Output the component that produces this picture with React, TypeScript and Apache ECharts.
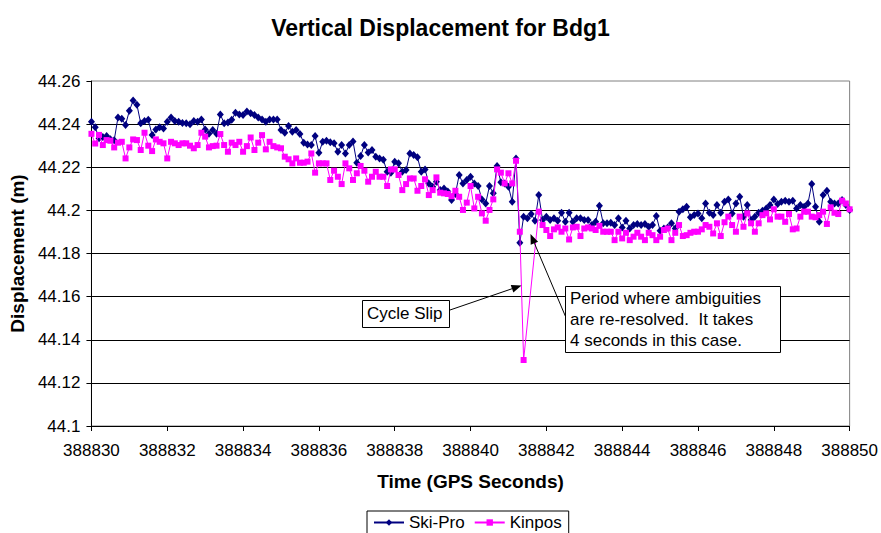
import React, { useEffect, useRef } from "react";
import * as echarts from "echarts";

const FONT = '"Liberation Sans", Arial, sans-serif';

const chartTitle = "Vertical Displacement for Bdg1";
const xAxisTitle = "Time (GPS Seconds)";
const yAxisTitle = "Displacement (m)";
const seriesNames = ["Ski-Pro", "Kinpos"];

// Sampling of both receivers: 10 Hz starting at GPS second 388830
const startTime = 388830;
const sampleStep = 0.1;

const xMin = 388830;
const xMax = 388850;
const xInterval = 2;
const yMin = 44.1;
const yMax = 44.26;
const yInterval = 0.02;

// Ski-Pro vertical displacement (m), one row per GPS second
const skiPro = [
  44.2411, 44.2385, 44.2335, 44.234, 44.2345, 44.233, 44.2325, 44.2431, 44.2425, 44.2396,
  44.2462, 44.2509, 44.249, 44.2404, 44.2415, 44.242, 44.235, 44.2375, 44.2385, 44.238,
  44.2411, 44.2431, 44.2415, 44.2411, 44.2405, 44.2404, 44.24, 44.2415, 44.2411, 44.2422,
  44.2375, 44.2355, 44.2373, 44.2355, 44.2445, 44.2404, 44.2407, 44.242, 44.2453, 44.2445,
  44.2442, 44.2458, 44.245, 44.2442, 44.2431, 44.2422, 44.2411, 44.2422, 44.2422, 44.2422,
  44.2373, 44.236, 44.2391, 44.2365, 44.2373, 44.2354, 44.2314, 44.2306, 44.2303, 44.2345,
  44.2267, 44.2318, 44.2323, 44.2316, 44.2311, 44.2272, 44.2303, 44.2264, 44.2303, 44.2319,
  44.2221, 44.2252, 44.2303, 44.2268, 44.228, 44.2249, 44.2241, 44.2235, 44.2179, 44.2175,
  44.2226, 44.2218, 44.2179, 44.2187, 44.2264, 44.2257, 44.2246, 44.2179, 44.219, 44.2125,
  44.211, 44.2133, 44.2094, 44.2102, 44.2087, 44.2048, 44.2076, 44.2164, 44.2125, 44.2141,
  44.2156, 44.2125, 44.2113, 44.2051, 44.2032, 44.2113, 44.2079, 44.2206, 44.2131, 44.2125,
  44.211, 44.204, 44.2241, 44.185, 44.1971, 44.1963, 44.1983, 44.1952, 44.2071, 44.1955,
  44.1971, 44.1955, 44.1963, 44.1952, 44.1989, 44.1947, 44.1989, 44.1947, 44.1963, 44.1963,
  44.1955, 44.1955, 44.1932, 44.1947, 44.2022, 44.194, 44.194, 44.1943, 44.1932, 44.1963,
  44.1921, 44.1952, 44.1916, 44.1932, 44.1937, 44.1932, 44.1937, 44.1924, 44.1932, 44.1974,
  44.1906, 44.1916, 44.1921, 44.194, 44.1916, 44.1994, 44.2005, 44.2017, 44.1968, 44.1978,
  44.1986, 44.1963, 44.2032, 44.1989, 44.1978, 44.2025, 44.1989, 44.204, 44.2051, 44.1986,
  44.2032, 44.2063, 44.1971, 44.2025, 44.1955, 44.1971, 44.1989, 44.1998, 44.2009, 44.2025,
  44.2051, 44.2029, 44.204, 44.2045, 44.204, 44.2045, 44.2009, 44.2025, 44.2017, 44.2032,
  44.2122, 44.2017, 44.1947, 44.2071, 44.2091, 44.204, 44.2032, 44.2032, 44.2048, 44.2025,
  44.2002,
];

// Kinpos vertical displacement (m); null = no fix while ambiguities were re-resolved
const kinpos = [
  44.2355, 44.231, 44.235, 44.2303, 44.2326, 44.2323, 44.2292, 44.2314, 44.2318, 44.2241,
  44.2292, 44.2329, 44.2326, 44.228, 44.236, 44.23, 44.2275, 44.2329, 44.2318, 44.2311,
  44.2241, 44.2318, 44.2311, 44.2303, 44.2311, 44.2311, 44.23, 44.2288, 44.2303, 44.236,
  44.2342, 44.2292, 44.2298, 44.23, 44.2354, 44.2303, 44.2272, 44.2314, 44.2303, 44.2318,
  44.2272, 44.2298, 44.2338, 44.228, 44.2314, 44.2349, 44.2283, 44.2318, 44.2298, 44.2292,
  44.2288, 44.2249, 44.2237, 44.2218, 44.2241, 44.2221, 44.2221, 44.2226, 44.2264, 44.2175,
  44.2218, 44.2218, 44.2218, 44.2141, 44.2184, 44.2156, 44.2122, 44.2218, 44.2195, 44.2141,
  44.2172, 44.2206, 44.2184, 44.2133, 44.2156, 44.2179, 44.2156, 44.2156, 44.2113, 44.219,
  44.219, 44.2164, 44.2094, 44.2122, 44.2148, 44.2148, 44.2091, 44.2113, 44.2144, 44.2071,
  44.2094, 44.2153, 44.2082, 44.2079, 44.2076, 44.2066, 44.2091, 44.2063, 44.2002, 44.2036,
  44.2113, 44.2009, 44.2063, 44.1986, 44.1952, 44.2002, 44.2051, 44.219, 44.2175, 44.2125,
  44.2172, 44.2125, 44.223, 44.1901, 44.1306, null, null, null, 44.1994, 44.1932,
  44.1909, 44.1881, 44.1912, 44.1921, 44.1901, 44.1916, 44.1865, 44.1921, 44.1924, 44.1881,
  44.1916, 44.1921, 44.1916, 44.1909, 44.1928, 44.1901, 44.1901, 44.1901, 44.1862, 44.1901,
  44.187, 44.1896, 44.1862, 44.1878, 44.1896, 44.1878, 44.1862, 44.1896, 44.1885, 44.1862,
  44.1878, 44.1909, 44.1916, 44.1862, 44.1896, 44.1932, 44.1881, 44.1885, 44.1896, 44.1901,
  44.1901, 44.1912, 44.1932, 44.1924, 44.1893, 44.194, 44.1881, 44.1945, 44.1971, 44.1932,
  44.1901, 44.1971, 44.1924, 44.1986, 44.194, 44.1901, 44.194, 44.1978, 44.1986, 44.1958,
  44.2005, 44.1971, 44.1971, 44.1947, 44.1983, 44.1912, 44.1916, 44.1971, 44.1994, 44.1994,
  44.1971, 44.1968, 44.1978, 44.1994, 44.1937, 44.2014, 44.1989, 44.1983, 44.2045, 44.2032,
  44.2005,
];

const cycleSlipLabel = "Cycle Slip";
const periodLabel = [
  "Period where ambiguities",
  "are re-resolved.  It takes",
  "4 seconds in this case.",
];

function toPairs(values: (number | null)[]) {
  const out: [number, number][] = [];
  values.forEach((v, i) => {
    if (v !== null) out.push([Number((startTime + i * sampleStep).toFixed(1)), v]);
  });
  return out;
}

function arrow(x1: number, y1: number, x2: number, y2: number) {
  const dx = x2 - x1;
  const dy = y2 - y1;
  const len = Math.hypot(dx, dy);
  const ux = dx / len;
  const uy = dy / len;
  const hl = 10;
  const hw = 4;
  const bx = x2 - ux * hl;
  const by = y2 - uy * hl;
  return [
    {
      type: "line",
      z: 100,
      shape: { x1, y1, x2: bx, y2: by },
      style: { stroke: "#000", lineWidth: 1 },
    },
    {
      type: "polygon",
      z: 100,
      shape: {
        points: [
          [x2, y2],
          [bx - uy * hw, by + ux * hw],
          [bx + uy * hw, by - ux * hw],
        ],
      },
      style: { fill: "#000" },
    },
  ];
}

export default function App() {
  const ref = useRef<HTMLDivElement>(null);

  useEffect(() => {
    if (!ref.current) return;
    const chart = echarts.init(ref.current, undefined, { renderer: "svg" });

    const textStyle = { fontFamily: FONT, color: "#000" };

    chart.setOption({
      animation: false,
      backgroundColor: "#fff",
      title: {
        text: chartTitle,
        left: "center",
        top: 11,
        textStyle: { ...textStyle, fontSize: 23, fontWeight: "bold" },
      },
      grid: {
        left: 87,
        right: 30,
        top: 81,
        bottom: 107,
        show: true,
        borderColor: "#808080",
        borderWidth: 1,
      },
      legend: {
        left: 367,
        top: 511,
        orient: "horizontal",
        data: seriesNames,
        borderColor: "#000",
        borderWidth: 1,
        borderRadius: 0,
        padding: [3, 7, 8, 6],
        itemGap: 9,
        itemWidth: 30,
        itemHeight: 8,
        textStyle: { ...textStyle, fontSize: 17 },
      },
      xAxis: {
        type: "value",
        min: xMin,
        max: xMax,
        interval: xInterval,
        name: xAxisTitle,
        nameLocation: "middle",
        nameGap: 46,
        nameTextStyle: { ...textStyle, fontSize: 19, fontWeight: "bold" },
        axisLine: { show: true, lineStyle: { color: "#000", width: 1 } },
        axisTick: { show: true, length: 5, lineStyle: { color: "#000" } },
        axisLabel: {
          ...textStyle,
          fontSize: 17,
          margin: 16,
          formatter: (v: number) => String(v),
        },
        splitLine: { show: false },
      },
      yAxis: {
        type: "value",
        min: yMin,
        max: yMax,
        interval: yInterval,
        name: yAxisTitle,
        nameLocation: "middle",
        nameGap: 58,
        nameRotate: 90,
        nameTextStyle: { ...textStyle, fontSize: 19, fontWeight: "bold" },
        axisLine: { show: true, lineStyle: { color: "#000", width: 1 } },
        axisTick: { show: true, length: 5, lineStyle: { color: "#000" } },
        axisLabel: {
          ...textStyle,
          fontSize: 17,
          margin: 11,
          formatter: (v: number) => String(Number(v.toFixed(2))),
        },
        splitLine: {
          show: true,
          showMinLine: false,
          showMaxLine: false,
          lineStyle: { color: "#000", width: 1 },
        },
      },
      series: [
        {
          name: seriesNames[0],
          type: "line",
          data: toPairs(skiPro),
          symbol: "diamond",
          symbolSize: [7, 8],
          showAllSymbol: true,
          itemStyle: { color: "#000080" },
          lineStyle: { color: "#000080", width: 1 },
          z: 2,
        },
        {
          name: seriesNames[1],
          type: "line",
          data: toPairs(kinpos),
          symbol: "rect",
          symbolSize: 6,
          showAllSymbol: true,
          connectNulls: true,
          itemStyle: { color: "#FF00FF" },
          lineStyle: { color: "#FF00FF", width: 1 },
          z: 3,
        },
      ],
      graphic: {
        elements: [
          ...arrow(450, 310, 521.5, 285.5),
          ...arrow(567, 320, 530.5, 234),
          {
            type: "rect",
            z: 101,
            shape: { x: 362.5, y: 300.5, width: 87, height: 27 },
            style: { fill: "#fff", stroke: "#000", lineWidth: 1 },
          },
          {
            type: "text",
            z: 102,
            x: 367,
            y: 305,
            style: {
              text: cycleSlipLabel,
              fontFamily: FONT,
              fontSize: 17,
              fill: "#000",
              verticalAlign: "top",
            },
          },
          {
            type: "rect",
            z: 101,
            shape: { x: 565.5, y: 286.5, width: 215, height: 66 },
            style: { fill: "#fff", stroke: "#000", lineWidth: 1 },
          },
          {
            type: "text",
            z: 102,
            x: 570,
            y: 288,
            style: {
              text: periodLabel.join("\n"),
              fontFamily: FONT,
              fontSize: 17,
              lineHeight: 21,
              fill: "#000",
              verticalAlign: "top",
            },
          },
        ],
      },
    });

    return () => chart.dispose();
  }, []);

  return (
    <div
      ref={ref}
      style={{ position: "fixed", left: 0, top: 0, width: 881, height: 533 }}
    />
  );
}
